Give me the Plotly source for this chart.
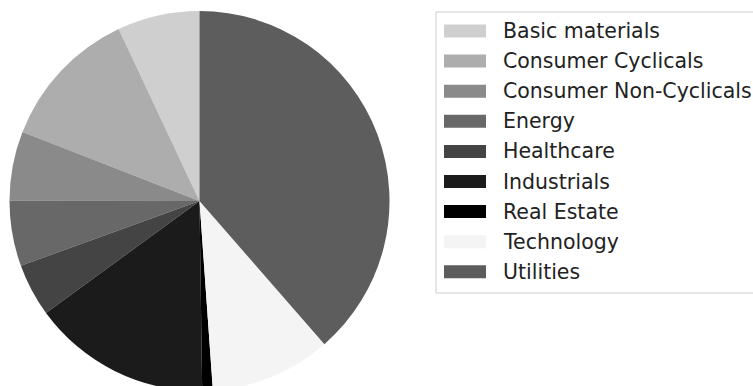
import plotly.graph_objects as go

# ---- data ----
sectors = ["Basic materials", "Consumer Cyclicals", "Consumer Non-Cyclicals",
           "Energy", "Healthcare", "Industrials", "Real Estate",
           "Technology", "Utilities"]
weights = [7.0, 12.1, 5.9, 5.55, 4.5, 15.2, 0.9, 10.3, 38.6]
colors = ["#cfcfcf", "#adadad", "#8a8a8a", "#686868", "#444444",
          "#1b1b1b", "#000000", "#f4f4f4", "#5d5d5d"]

W, H = 753, 392   # a few px taller than the window: the pie is cut at the bottom
OFF = 0


def px(x):
    return (x - OFF) / W


def py(y):
    return 1 - (y - OFF) / H


# pie geometry (window pixels)
cx, cy, r = 199.5, 201.0, 190.0

# first slice should start at 12 o'clock and run counterclockwise
start_rot = -weights[0] / sum(weights) * 360

fig = go.Figure()
fig.add_trace(go.Pie(
    labels=sectors,
    values=weights,
    sort=False,
    direction="counterclockwise",
    rotation=start_rot,
    textinfo="none",
    hoverinfo="label+percent",
    marker=dict(colors=colors, line=dict(width=0)),
    domain=dict(x=[max(0, px(cx - r)), px(cx + r)],
                y=[max(0, py(cy + r)), min(1, py(cy - r))]),
    showlegend=False,
))

shapes = []
annotations = []
# legend frame
shapes.append(dict(type="rect", xref="paper", yref="paper",
                   x0=px(436), x1=px(790), y0=py(293), y1=py(12),
                   line=dict(color="#cccccc", width=1), fillcolor="white",
                   layer="below"))
y0_item, step = 31.0, 30.1
for i, (name, col) in enumerate(zip(sectors, colors)):
    yc = y0_item + i * step
    shapes.append(dict(type="rect", xref="paper", yref="paper",
                       x0=px(444), x1=px(486), y0=py(yc + 6.5), y1=py(yc - 6.5),
                       line=dict(width=0), fillcolor=col))
    annotations.append(dict(xref="paper", yref="paper", x=px(501), y=py(yc),
                            xanchor="left", yanchor="middle", showarrow=False,
                            text=name, font=dict(size=20.5, color="#222222",
                                                 family="DejaVu Sans")))

fig.update_layout(
    width=W, height=H,
    margin=dict(l=0, r=0, t=0, b=0),
    paper_bgcolor="white",
    plot_bgcolor="white",
    shapes=shapes,
    annotations=annotations,
    font=dict(family="DejaVu Sans"),
)

fig.write_html("out.html",
               config={"displayModeBar": False},
               post_script="document.body.style.margin='0px';"
                           "document.body.style.overflow='hidden';")
